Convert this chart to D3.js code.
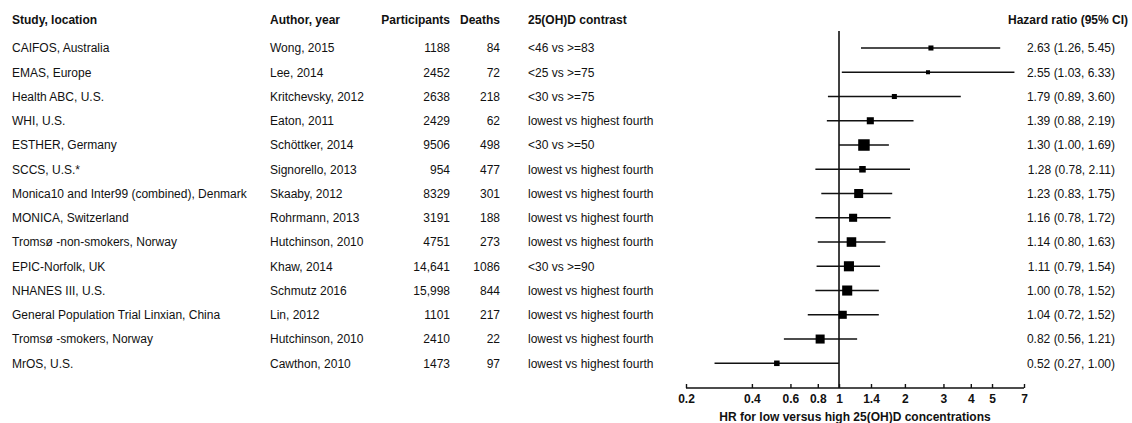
<!DOCTYPE html>
<html>
<head>
<meta charset="utf-8">
<script src="https://cdn.jsdelivr.net/npm/d3@7"></script>
<style>
  body { margin: 0; background: #fff; }
  text { font-family: "Liberation Sans", Arial, sans-serif; fill: #111; }
</style>
</head>
<body>
<div id="main-frame"></div>
<script>
const studies = ["CAIFOS, Australia", "EMAS, Europe", "Health ABC, U.S.", "WHI, U.S.", "ESTHER, Germany",
  "SCCS, U.S.*", "Monica10 and Inter99 (combined), Denmark", "MONICA, Switzerland", "Tromsø -non-smokers, Norway",
  "EPIC-Norfolk, UK", "NHANES III, U.S.", "General Population Trial Linxian, China", "Tromsø -smokers, Norway", "MrOS, U.S."];
const authors = ["Wong, 2015", "Lee, 2014", "Kritchevsky, 2012", "Eaton, 2011", "Schöttker, 2014", "Signorello, 2013",
  "Skaaby, 2012", "Rohrmann, 2013", "Hutchinson, 2010", "Khaw, 2014", "Schmutz 2016", "Lin, 2012", "Hutchinson, 2010", "Cawthon, 2010"];
const participants = ["1188", "2452", "2638", "2429", "9506", "954", "8329", "3191", "4751", "14,641", "15,998", "1101", "2410", "1473"];
const deaths = ["84", "72", "218", "62", "498", "477", "301", "188", "273", "1086", "844", "217", "22", "97"];
const contrasts = ["<46 vs >=83", "<25 vs >=75", "<30 vs >=75", "lowest vs highest fourth", "<30 vs >=50",
  "lowest vs highest fourth", "lowest vs highest fourth", "lowest vs highest fourth", "lowest vs highest fourth",
  "<30 vs >=90", "lowest vs highest fourth", "lowest vs highest fourth", "lowest vs highest fourth", "lowest vs highest fourth"];
// point estimates as drawn (NHANES square sits at ~1.09 in the picture)
const hr = [2.63, 2.55, 1.79, 1.39, 1.30, 1.28, 1.23, 1.16, 1.14, 1.11, 1.09, 1.04, 0.82, 0.52];
const lower = [1.26, 1.03, 0.89, 0.88, 1.00, 0.78, 0.83, 0.78, 0.80, 0.79, 0.78, 0.72, 0.56, 0.27];
const upper = [5.45, 6.33, 3.60, 2.19, 1.69, 2.11, 1.75, 1.72, 1.63, 1.54, 1.52, 1.52, 1.21, 1.00];
const hrLabels = ["2.63 (1.26, 5.45)", "2.55 (1.03, 6.33)", "1.79 (0.89, 3.60)", "1.39 (0.88, 2.19)", "1.30 (1.00, 1.69)",
  "1.28 (0.78, 2.11)", "1.23 (0.83, 1.75)", "1.16 (0.78, 1.72)", "1.14 (0.80, 1.63)", "1.11 (0.79, 1.54)",
  "1.00 (0.78, 1.52)", "1.04 (0.72, 1.52)", "0.82 (0.56, 1.21)", "0.52 (0.27, 1.00)"];
const weights = [2.5, 1.6, 2.5, 4.9, 13, 4.2, 8, 6.4, 9, 10, 10, 6.4, 8, 3];
const tickValues = [0.2, 0.4, 0.6, 0.8, 1, 1.4, 2, 3, 4, 5, 7];

const width = 1132, height = 423;
const fs = 12;

const svg = d3.select("#main-frame")
  .append("svg")
  .attr("width", width)
  .attr("height", height);

const rows = d3.range(studies.length);

const x = d3.scaleLog().domain([0.2, 7]).range([686, 1024]);
const y = d3.scalePoint().domain(rows).range([48, 363.3]);
const size = d3.scaleSqrt().domain([0, 13]).range([0, 11.5]);

// headers
const headers = [
  { t: "Study, location", x: 12, a: "start" },
  { t: "Author, year", x: 270, a: "start" },
  { t: "Participants", x: 450, a: "end" },
  { t: "Deaths", x: 500, a: "end" },
  { t: "25(OH)D contrast", x: 528, a: "start" },
  { t: "Hazard ratio (95% CI)", x: 1128, a: "end" }
];
svg.selectAll(".hdr")
  .data(headers)
  .enter()
  .append("text")
  .attr("class", "hdr")
  .attr("x", d => d.x)
  .attr("y", 24)
  .attr("text-anchor", d => d.a)
  .attr("font-weight", "bold")
  .attr("font-size", fs)
  .text(d => d.t);

// table columns
const cols = [
  { vals: studies, x: 12, a: "start" },
  { vals: authors, x: 270, a: "start" },
  { vals: participants, x: 450, a: "end" },
  { vals: deaths, x: 500, a: "end" },
  { vals: contrasts, x: 528, a: "start" },
  { vals: hrLabels, x: 1115, a: "end" }
];
cols.forEach(c => {
  svg.append("g")
    .selectAll("text")
    .data(rows)
    .enter()
    .append("text")
    .attr("x", c.x)
    .attr("y", i => y(i) + 4.3)
    .attr("text-anchor", c.a)
    .attr("font-size", fs)
    .text(i => c.vals[i]);
});

// axis
const xAxis = d3.axisTop(x)
  .tickValues(tickValues)
  .tickSize(4)
  .tickFormat(d => d3.format("")(d));
const axisG = svg.append("g")
  .attr("transform", "translate(0, 388)")
  .call(xAxis);
axisG.select(".domain").attr("d", `M${x(0.2)},0H${x(7)}`).attr("stroke", "#111").attr("stroke-width", 1.5);
axisG.selectAll(".tick line").attr("stroke", "#111").attr("stroke-width", 1.4);
axisG.selectAll(".tick text")
  .attr("y", 15)
  .attr("dy", 0)
  .attr("font-size", fs)
  .attr("font-weight", "bold")
  .attr("font-family", "Liberation Sans, Arial, sans-serif")
  .attr("fill", "#111");

svg.append("text")
  .attr("x", (x(0.2) + x(7)) / 2)
  .attr("y", 421)
  .attr("text-anchor", "middle")
  .attr("font-size", fs)
  .attr("font-weight", "bold")
  .text("HR for low versus high 25(OH)D concentrations");

// reference line at HR = 1
svg.append("line")
  .attr("x1", x(1)).attr("x2", x(1))
  .attr("y1", 31).attr("y2", 388)
  .attr("stroke", "#111")
  .attr("stroke-width", 1.6);

// confidence intervals
svg.append("g")
  .selectAll("line")
  .data(rows)
  .enter()
  .append("line")
  .attr("x1", i => x(lower[i]))
  .attr("x2", i => x(upper[i]))
  .attr("y1", i => y(i))
  .attr("y2", i => y(i))
  .attr("stroke", "#111")
  .attr("stroke-width", 1.5);

// point estimates
svg.append("g")
  .selectAll("rect")
  .data(rows)
  .enter()
  .append("rect")
  .attr("x", i => x(hr[i]) - size(weights[i]) / 2)
  .attr("y", i => y(i) - size(weights[i]) / 2)
  .attr("width", i => size(weights[i]))
  .attr("height", i => size(weights[i]))
  .attr("fill", "#000");
</script>
</body>
</html>
